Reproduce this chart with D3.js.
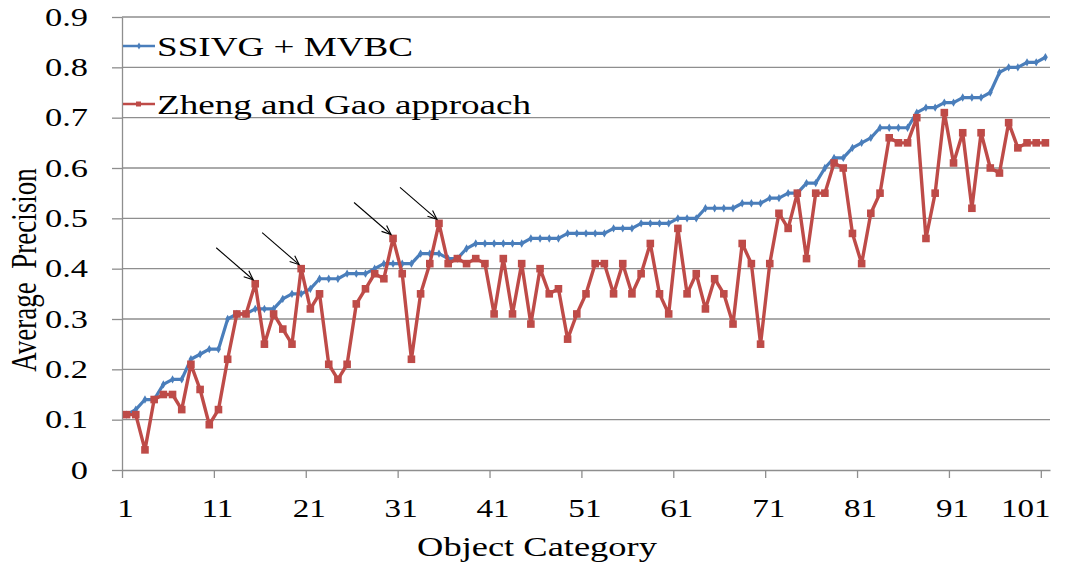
<!DOCTYPE html>
<html>
<head>
<meta charset="utf-8">
<script src="https://cdn.jsdelivr.net/npm/d3@7"></script>
<style>
  body { margin: 0; background: #fff; }
  svg { display: block; }
  text { font-family: "Liberation Serif", "Times New Roman", serif; fill: #000; }
</style>
</head>
<body>
<svg id="chart" width="1075" height="562"></svg>
<script>
// Average precision per object category (categories 1..101)
const categories = d3.range(1, 102);

const ssivgMvbc = [
  0.11, 0.12, 0.14, 0.14, 0.17, 0.18, 0.18, 0.22, 0.23, 0.24,
  0.24, 0.30, 0.31, 0.31, 0.32, 0.32, 0.32, 0.34, 0.35, 0.35,
  0.36, 0.38, 0.38, 0.38, 0.39, 0.39, 0.39, 0.40, 0.41, 0.41,
  0.41, 0.41, 0.43, 0.43, 0.43, 0.42, 0.42, 0.44, 0.45, 0.45,
  0.45, 0.45, 0.45, 0.45, 0.46, 0.46, 0.46, 0.46, 0.47, 0.47,
  0.47, 0.47, 0.47, 0.48, 0.48, 0.48, 0.49, 0.49, 0.49, 0.49,
  0.50, 0.50, 0.50, 0.52, 0.52, 0.52, 0.52, 0.53, 0.53, 0.53,
  0.54, 0.54, 0.55, 0.55, 0.57, 0.57, 0.60, 0.62, 0.62, 0.64,
  0.65, 0.66, 0.68, 0.68, 0.68, 0.68, 0.71, 0.72, 0.72, 0.73,
  0.73, 0.74, 0.74, 0.74, 0.75, 0.79, 0.80, 0.80, 0.81, 0.81,
  0.82
];

const zhengGao = [
  0.11, 0.11, 0.04, 0.14, 0.15, 0.15, 0.12, 0.21, 0.16, 0.09,
  0.12, 0.22, 0.31, 0.31, 0.37, 0.25, 0.31, 0.28, 0.25, 0.40,
  0.32, 0.35, 0.21, 0.18, 0.21, 0.33, 0.36, 0.39, 0.38, 0.46,
  0.39, 0.22, 0.35, 0.41, 0.49, 0.41, 0.42, 0.41, 0.42, 0.41,
  0.31, 0.42, 0.31, 0.41, 0.29, 0.40, 0.35, 0.36, 0.26, 0.31,
  0.35, 0.41, 0.41, 0.35, 0.41, 0.35, 0.39, 0.45, 0.35, 0.31,
  0.48, 0.35, 0.39, 0.32, 0.38, 0.35, 0.29, 0.45, 0.41, 0.25,
  0.41, 0.51, 0.48, 0.55, 0.42, 0.55, 0.55, 0.61, 0.60, 0.47,
  0.41, 0.51, 0.55, 0.66, 0.65, 0.65, 0.70, 0.46, 0.55, 0.71,
  0.61, 0.67, 0.52, 0.67, 0.60, 0.59, 0.69, 0.64, 0.65, 0.65,
  0.65
];

const seriesNames = ["SSIVG + MVBC", "Zheng and Gao approach"];
const yTicks = [0, 0.1, 0.2, 0.3, 0.4, 0.5, 0.6, 0.7, 0.8, 0.9];
const xTickLabels = [1, 11, 21, 31, 41, 51, 61, 71, 81, 91, 101];
// categories whose peaks are called out with arrows
const calledOut = [15, 20, 30, 35];

const BLUE = "#4a7ebb";
const RED = "#be4b48";
const GRID = "#8e8e8e";
const SX = 1.35; // horizontal stretch applied to the lettering

const svg = d3.select("#chart");
const x = d3.scaleLinear().domain([0.5, 101.5]).range([122, 1050]);
const y = d3.scaleLinear().domain([0, 0.9]).range([470, 17]);

// horizontal gridlines
svg.append("g")
  .selectAll("line")
  .data(yTicks.filter(d => d > 0))
  .join("line")
  .attr("x1", x.range()[0]).attr("x2", x.range()[1])
  .attr("y1", d => y(d)).attr("y2", d => y(d))
  .attr("stroke", GRID).attr("stroke-width", 1.3);

// y axis
const yAxis = svg.append("g")
  .attr("transform", `translate(${x.range()[0]},0)`)
  .call(d3.axisLeft(y).tickValues(yTicks).tickSize(10).tickSizeOuter(0)
    .tickFormat(d => d === 0 ? "0" : d3.format(".1f")(d)));
yAxis.select(".domain").attr("stroke", GRID).attr("stroke-width", 1.3);
yAxis.selectAll(".tick line").attr("stroke", GRID).attr("stroke-width", 1.3);
yAxis.selectAll(".tick text")
  .attr("x", 0).attr("dy", "0.32em")
  .attr("font-size", 25.5)
  .attr("transform", `translate(-34,0) scale(${SX},1)`);

// x axis
const xAxis = svg.append("g")
  .attr("transform", `translate(0,${y(0)})`)
  .call(d3.axisBottom(x)
    .tickValues(xTickLabels.map(d => d - 0.5))
    .tickSize(8).tickSizeOuter(0)
    .tickFormat((d, i) => xTickLabels[i]));
xAxis.select(".domain").attr("stroke", GRID).attr("stroke-width", 1.3);
xAxis.selectAll(".tick line").attr("stroke", GRID).attr("stroke-width", 1.3);
xAxis.selectAll(".tick text")
  .attr("y", 0).attr("dy", 0)
  .attr("font-size", 24.5)
  .attr("transform", `translate(3,47) scale(${SX},1)`);
// the last label is kept inside the plot's right edge
xAxis.selectAll(".tick text")
  .filter((d, i) => i === xTickLabels.length - 1)
  .attr("text-anchor", "end")
  .attr("transform", `translate(${x.range()[1] - x(100.5)},47) scale(${SX},1)`);

// axis titles
svg.append("text")
  .attr("text-anchor", "middle")
  .attr("font-size", 27)
  .attr("transform", `translate(537,556) scale(${SX},1)`)
  .text("Object Category");

svg.append("text")
  .attr("text-anchor", "middle")
  .attr("font-size", 27)
  .attr("transform", `translate(36,270) scale(${SX},1) rotate(-90)`)
  .text("Average\u00a0\u00a0Precision");

// series lines
const line = data => d3.line()
  .x((d, i) => x(categories[i]))
  .y(d => y(d))(data);

svg.append("path")
  .attr("d", line(ssivgMvbc))
  .attr("fill", "none").attr("stroke", BLUE)
  .attr("stroke-width", 3.2).attr("stroke-linejoin", "round");

svg.append("g")
  .selectAll("path")
  .data(ssivgMvbc)
  .join("path")
  .attr("d", d3.symbol(d3.symbolDiamond, 20))
  .attr("transform", (d, i) => `translate(${x(categories[i])},${y(d)})`)
  .attr("fill", BLUE);

svg.append("path")
  .attr("d", line(zhengGao))
  .attr("fill", "none").attr("stroke", RED)
  .attr("stroke-width", 3.4).attr("stroke-linejoin", "round");

svg.append("g")
  .selectAll("rect")
  .data(zhengGao)
  .join("rect")
  .attr("x", (d, i) => x(categories[i]) - 3.8)
  .attr("y", d => y(d) - 3.8)
  .attr("width", 7.6).attr("height", 7.6)
  .attr("fill", RED);

// arrows pointing at the highlighted peaks
const arrows = svg.append("g").attr("stroke", "#000").attr("stroke-width", 1.1).attr("fill", "none");
calledOut.forEach(c => {
  const tx = x(c) - 2, ty = y(zhengGao[c - 1]) - 4;
  const sx = tx - 37, sy = ty - 32;
  const ang = Math.atan2(ty - sy, tx - sx);
  const L = 10, spread = 0.4;
  arrows.append("line").attr("x1", sx).attr("y1", sy).attr("x2", tx).attr("y2", ty);
  arrows.append("path").attr("d",
    `M${tx - L * Math.cos(ang - spread)},${ty - L * Math.sin(ang - spread)}L${tx},${ty}` +
    `L${tx - L * Math.cos(ang + spread)},${ty - L * Math.sin(ang + spread)}`);
});

// legend
const legend = svg.append("g");
[[BLUE, 46, "diamond"], [RED, 104, "square"]].forEach(([col, ly, shape], k) => {
  legend.append("line").attr("x1", 123).attr("x2", 155).attr("y1", ly).attr("y2", ly)
    .attr("stroke", col).attr("stroke-width", 2.5);
  if (shape === "diamond") {
    legend.append("path").attr("d", d3.symbol(d3.symbolDiamond, 14))
      .attr("transform", `translate(139,${ly})`).attr("fill", col);
  } else {
    legend.append("rect").attr("x", 136).attr("y", ly - 2.5).attr("width", 5).attr("height", 5).attr("fill", col);
  }
  legend.append("text")
    .attr("font-size", 27.5).attr("dy", "0.35em")
    .attr("transform", `translate(157,${ly}) scale(${SX},1)`)
    .text(seriesNames[k]);
});
</script>
</body>
</html>
